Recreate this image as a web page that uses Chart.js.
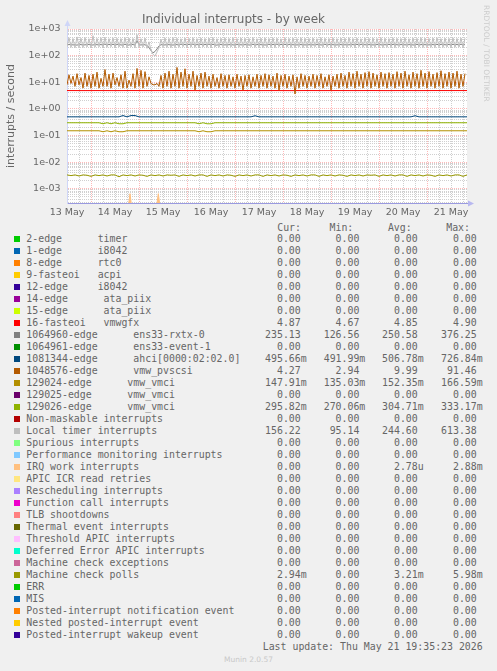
<!DOCTYPE html>
<html lang="en">
<head>
  <meta charset="UTF-8" />
  <title>Individual interrupts - by week</title>
  <script src="https://cdn.jsdelivr.net/npm/chart.js"></script>
  <style>
    body { margin: 0; background: #f0f0f0; }
    #wrap { position: relative; width: 497px; height: 671px; overflow: hidden; color: #666; font-family: 'DejaVu Sans Mono', monospace; }
    #chart { position: absolute; left: 0; top: 0; }
    .t { position: absolute; white-space: pre; font-size: 9.9px; line-height: 12px; }
    .sw { position: absolute; width: 6px; height: 6px; }
    #rrd { position: absolute; left: 482px; top: 5px; writing-mode: vertical-rl; font: 7.5px 'DejaVu Sans', sans-serif; color: #ccc; white-space: pre; }
    #munin { position: absolute; left: 0; width: 497px; top: 655px; text-align: center; font: 7.5px 'DejaVu Sans', sans-serif; color: #c8c8c8; }
  </style>
</head>
<body>
<div id="wrap">
  <canvas id="chart" width="497" height="222"></canvas>
  <div id="rrd">RRDTOOL / TOBI OETIKER</div>
  <div id="legend"></div>
  <div id="munin">Munin 2.0.57</div>
</div>

<script>
  // time axis in hours since 13 May 00:00; left edge is 13 May 12:00
  const startHour = 12;
  const endHour = 212;
  const dayLabels = ['13 May', '14 May', '15 May', '16 May', '17 May', '18 May', '19 May', '20 May', '21 May'];
  const yTickLabels = ['1e-03', '1e-02', '1e-01', '1e+00', '1e+01', '1e+02', '1e+03'];

  // hourly samples
  const localTimer = [
    215,470,205,440,198,505,210,450,202,480,212,430,196,560,208,445,214,470,200,490,
    206,435,216,465,199,450,211,438,204,475,201,455,213,442,195,612,207,432,210,458,
    188,330,160,112,96,138,195,415,212,465,203,442,199,478,211,452,206,431,216,463,
    201,447,209,472,204,436,198,461,212,443,205,458,199,476,210,433,206,452,214,466,
    203,444,211,474,199,437,207,463,212,451,201,441,215,478,204,432,209,457,200,468,
    206,442,211,463,199,453,216,431,204,472,210,446,201,462,206,437,212,471,199,452,
    209,443,205,461,214,433,200,473,206,452,211,441,199,467,205,436,210,462,201,451,
    204,472,211,442,200,457,215,432,206,468,210,447,201,461,205,441,211,473,200,452,
    206,437,210,466,199,451,214,442,205,471,211,432,200,462,206,447,210,474,201,456,
    211,441,205,462,200,472,214,436,204,457,211,446,199,466,206,442,210,461,200,451
  ];
  const ens33Rxtx = [
    262,256,271,249,266,244,276,254,261,251,269,258,263,247,274,253,266,256,259,271,
    251,263,254,268,246,261,272,249,258,266,255,248,271,259,252,366,258,250,263,254,
    238,205,152,128,142,178,232,256,263,249,271,255,261,247,266,258,251,270,256,262,
    250,266,258,272,246,261,254,268,251,262,259,270,252,266,255,247,268,258,262,251,
    265,254,271,250,260,258,267,252,263,255,270,248,261,266,252,258,268,255,262,250,
    258,267,252,262,256,271,249,263,257,266,252,260,268,254,262,250,266,257,263,251,
    260,254,268,251,263,257,270,249,262,266,252,259,267,255,261,250,269,256,262,253,
    264,252,270,256,259,265,251,262,268,254,261,257,266,250,263,258,271,252,260,256,
    257,265,251,263,269,254,260,258,267,252,262,256,270,249,261,264,253,258,267,255,
    262,251,268,257,260,265,252,263,270,254,259,262,250,266,258,261,253,268,256,258
  ];
  const pvscsi = [
    8,19,9,17,7,21,8,15,6,22,7,18,6,20,7,24,6,14,7,30,
    7,20,6,22,8,15,7,19,6,26,6,12,7,21,6,33,7,28,6,25,
    7,16,9,8,8,9,7,18,6,22,7,26,6,20,7,36,6,24,7,32,
    6,20,7,26,5,18,7,22,6,24,7,17,6,20,7,15,6,21,7,18,
    6,19,7,16,6,20,7,17,5,18,7,19,6,16,7,20,6,18,7,21,
    6,19,7,17,6,22,5,18,7,20,6,17,7,19,3.6,16,6,21,7,18,
    6,17,7,20,6,18,7,21,6,16,7,19,5,17,7,20,6,22,7,18,
    6,24,7,21,6,26,7,20,6,23,7,25,6,22,7,19,6,24,7,21,
    6,23,7,20,6,25,7,22,6,26,7,19,6,24,7,21,6,28,7,22,
    6,25,7,20,6,23,7,27,6,21,7,24,6,22,7,26,6,20,7,21
  ];

  // two-hourly samples
  const ahci = [
    0.5,0.5,0.5,0.5,0.5,0.5,0.5,0.5,0.5,0.5,
    0.5,0.5,0.5,0.5,0.56,0.5,0.56,0.56,0.5,0.5,
    0.5,0.5,0.5,0.5,0.5,0.5,0.5,0.5,0.5,0.5,
    0.5,0.5,0.5,0.5,0.5,0.5,0.5,0.5,0.5,0.5,
    0.5,0.5,0.5,0.5,0.5,0.5,0.5,0.55,0.5,0.5,
    0.5,0.5,0.5,0.5,0.5,0.5,0.5,0.5,0.5,0.5,
    0.5,0.5,0.5,0.5,0.5,0.5,0.5,0.5,0.5,0.5,
    0.5,0.5,0.5,0.5,0.5,0.5,0.5,0.5,0.5,0.5,
    0.5,0.5,0.5,0.5,0.5,0.5,0.5,0.55,0.5,0.5,
    0.5,0.5,0.5,0.5,0.5,0.5,0.5,0.5,0.5,0.5,0.5
  ];
  const vmci26 = [
    0.3,0.3,0.3,0.3,0.3,0.3,0.3,0.3,0.3,0.275,
    0.3,0.275,0.3,0.275,0.275,0.3,0.3,0.3,0.3,0.3,
    0.3,0.3,0.3,0.3,0.3,0.3,0.3,0.3,0.3,0.3,
    0.3,0.3,0.3,0.275,0.3,0.275,0.275,0.3,0.3,0.3,
    0.3,0.3,0.3,0.3,0.3,0.3,0.3,0.3,0.3,0.3,
    0.3,0.3,0.3,0.3,0.3,0.3,0.3,0.3,0.3,0.3,
    0.3,0.3,0.3,0.3,0.3,0.3,0.3,0.3,0.3,0.3,
    0.3,0.3,0.3,0.3,0.3,0.3,0.3,0.3,0.3,0.3,
    0.3,0.3,0.3,0.3,0.3,0.3,0.3,0.3,0.3,0.3,
    0.3,0.3,0.3,0.3,0.3,0.3,0.3,0.3,0.3,0.3,0.3
  ];
  const vmci24 = [
    0.15,0.15,0.15,0.15,0.15,0.15,0.15,0.15,0.15,0.138,
    0.15,0.138,0.15,0.138,0.138,0.15,0.15,0.15,0.15,0.15,
    0.15,0.15,0.15,0.15,0.15,0.15,0.15,0.15,0.15,0.15,
    0.15,0.15,0.15,0.138,0.15,0.138,0.138,0.15,0.15,0.15,
    0.15,0.15,0.15,0.15,0.15,0.15,0.15,0.15,0.15,0.15,
    0.15,0.15,0.15,0.15,0.15,0.15,0.15,0.15,0.15,0.15,
    0.15,0.15,0.15,0.15,0.15,0.15,0.15,0.15,0.15,0.15,
    0.15,0.15,0.15,0.15,0.15,0.15,0.15,0.15,0.15,0.15,
    0.15,0.15,0.15,0.15,0.15,0.15,0.15,0.15,0.15,0.15,
    0.15,0.15,0.15,0.15,0.15,0.15,0.15,0.15,0.15,0.15,0.15
  ];
  const mcPolls = [
    0.0033,0.0031,0.0033,0.0030,0.0033,0.0032,0.0029,0.0033,0.0031,0.0033,
    0.0030,0.0033,0.0033,0.0028,0.0033,0.0031,0.0033,0.0030,0.0033,0.0032,
    0.0029,0.0033,0.0031,0.0033,0.0030,0.0033,0.0032,0.0033,0.0029,0.0033,
    0.0031,0.0033,0.0030,0.0033,0.0033,0.0029,0.0033,0.0031,0.0033,0.0030,
    0.0033,0.0032,0.0029,0.0033,0.0031,0.0033,0.0030,0.0033,0.0033,0.0029,
    0.0033,0.0031,0.0033,0.0030,0.0033,0.0032,0.0029,0.0033,0.0031,0.0033,
    0.0030,0.0033,0.0033,0.0029,0.0033,0.0031,0.0033,0.0030,0.0033,0.0032,
    0.0029,0.0033,0.0031,0.0033,0.0030,0.0033,0.0032,0.0033,0.0029,0.0033,
    0.0031,0.0033,0.0030,0.0033,0.0033,0.0029,0.0033,0.0031,0.0033,0.0030,
    0.0033,0.0032,0.0029,0.0033,0.0031,0.0033,0.0030,0.0033,0.0033,0.0029,0.0033
  ];

  // eight-hourly samples
  const vmwgfx = [4.87,4.85,4.86,4.84,4.87,4.85,4.86,4.88,4.85,4.84,4.86,4.87,4.85,4.86,4.84,4.87,4.85,4.86,4.85,4.87,4.84,4.86,4.85,4.87,4.86,4.87];

  // IRQ work spikes (hour, value); null breaks the line
  const irqHours = [42.9, 43.5, 44.1, 50, 57.0, 57.65, 58.3];
  const irqValues = [0.00029, 0.00065, 0.00029, null, 0.00029, 0.00065, 0.00029];

  // legend table
  const names = [
    '2-edge      timer', '1-edge      i8042', '8-edge      rtc0', '9-fasteoi   acpi',
    '12-edge     i8042', '14-edge      ata_piix', '15-edge      ata_piix', '16-fasteoi   vmwgfx',
    '1064960-edge      ens33-rxtx-0', '1064961-edge      ens33-event-1',
    '1081344-edge      ahci[0000:02:02.0]', '1048576-edge      vmw_pvscsi',
    '129024-edge      vmw_vmci', '129025-edge      vmw_vmci', '129026-edge      vmw_vmci',
    'Non-maskable interrupts', 'Local timer interrupts', 'Spurious interrupts',
    'Performance monitoring interrupts', 'IRQ work interrupts', 'APIC ICR read retries',
    'Rescheduling interrupts', 'Function call interrupts', 'TLB shootdowns',
    'Thermal event interrupts', 'Threshold APIC interrupts', 'Deferred Error APIC interrupts',
    'Machine check exceptions', 'Machine check polls', 'ERR', 'MIS',
    'Posted-interrupt notification event', 'Nested posted-interrupt event', 'Posted-interrupt wakeup event'
  ];
  const colors = [
    '#00CC00', '#0066B3', '#FF8000', '#FFCC00', '#330099', '#990099', '#CCFF00', '#FF0000',
    '#808080', '#008F00', '#00487D', '#B35A00', '#B38F00', '#6B006B', '#8FB300', '#B30000',
    '#BEBEBE', '#80FF80', '#80C9FF', '#FFC080', '#FFE680', '#AA80FF', '#EE00CC', '#FF8080',
    '#666600', '#FFBFFF', '#00FFCC', '#CC6699', '#999900', '#00CC00', '#0066B3', '#FF8000',
    '#FFCC00', '#330099'
  ];
  const curVals = ['0.00','0.00','0.00','0.00','0.00','0.00','0.00','4.87','235.13','0.00','495.66m','4.27','147.91m','0.00','295.82m','0.00','156.22','0.00','0.00','0.00','0.00','0.00','0.00','0.00','0.00','0.00','0.00','0.00','2.94m','0.00','0.00','0.00','0.00','0.00'];
  const minVals = ['0.00','0.00','0.00','0.00','0.00','0.00','0.00','4.67','126.56','0.00','491.99m','2.94','135.03m','0.00','270.06m','0.00','95.14','0.00','0.00','0.00','0.00','0.00','0.00','0.00','0.00','0.00','0.00','0.00','0.00','0.00','0.00','0.00','0.00','0.00'];
  const avgVals = ['0.00','0.00','0.00','0.00','0.00','0.00','0.00','4.85','250.58','0.00','506.78m','9.99','152.35m','0.00','304.71m','0.00','244.60','0.00','0.00','2.78u','0.00','0.00','0.00','0.00','0.00','0.00','0.00','0.00','3.21m','0.00','0.00','0.00','0.00','0.00'];
  const maxVals = ['0.00','0.00','0.00','0.00','0.00','0.00','0.00','4.90','376.25','0.00','726.84m','91.46','166.59m','0.00','333.17m','0.00','613.38','0.00','0.00','2.88m','0.00','0.00','0.00','0.00','0.00','0.00','0.00','0.00','5.98m','0.00','0.00','0.00','0.00','0.00'];
  const lastUpdate = 'Last update: Thu May 21 19:35:23 2026';

  const pts = (vals, step) => vals.map((v, i) => ({ x: startHour + i * step, y: v }));
  const line = (idx, data, extra) => Object.assign({
    label: names[idx], data, borderColor: colors[idx], backgroundColor: colors[idx],
    borderWidth: 1, pointRadius: 0, tension: 0, fill: false, order: -idx
  }, extra || {});

  const MAJOR = 'rgba(255,128,128,0.55)';
  const MINOR = 'rgba(170,170,170,0.55)';
  const FONT = 'DejaVu Sans';

  const canvasBg = {
    id: 'canvasBg',
    beforeDraw(chart) {
      const { ctx, chartArea: a } = chart;
      ctx.save();
      ctx.fillStyle = '#ffffff';
      ctx.fillRect(a.left, a.top, a.right - a.left, a.bottom - a.top);
      ctx.restore();
    }
  };
  const arrows = {
    id: 'arrows',
    afterDraw(chart) {
      const { ctx, chartArea: a } = chart;
      const x = Math.round(a.left) + 0.5, y = Math.round(a.bottom) + 0.5;
      ctx.save();
      ctx.strokeStyle = '#CFD6F8';
      ctx.fillStyle = '#CFD6F8';
      ctx.lineWidth = 1;
      ctx.beginPath(); ctx.moveTo(x, a.top); ctx.lineTo(x, a.top - 4); ctx.stroke();
      ctx.beginPath(); ctx.moveTo(x - 3, a.top - 3); ctx.lineTo(x + 3, a.top - 3); ctx.lineTo(x, a.top - 9); ctx.closePath(); ctx.fill();
      ctx.strokeStyle = '#9a9ae0'; ctx.fillStyle = '#b8b8f0';
      ctx.beginPath(); ctx.moveTo(a.right, y); ctx.lineTo(a.right + 2, y); ctx.stroke();
      ctx.beginPath(); ctx.moveTo(a.right + 1, y - 3); ctx.lineTo(a.right + 1, y + 3); ctx.lineTo(a.right + 7, y); ctx.closePath(); ctx.fill();
      ctx.restore();
    }
  };

  new Chart(document.getElementById('chart'), {
    type: 'line',
    data: {
      datasets: [
        line(7, pts(vmwgfx, 8)),
        line(8, pts(ens33Rxtx, 1)),
        line(10, pts(ahci, 2)),
        line(11, pts(pvscsi, 1)),
        line(12, pts(vmci24, 2)),
        line(14, pts(vmci26, 2)),
        line(16, pts(localTimer, 1)),
        line(19, irqHours.map((h, i) => ({ x: h, y: irqValues[i] })), { fill: 'start', spanGaps: false }),
        line(28, pts(mcPolls, 2))
      ]
    },
    options: {
      responsive: false,
      animation: false,
      events: [],
      layout: { padding: { left: 0, right: 30, top: 0, bottom: 0 } },
      plugins: {
        legend: { display: false },
        tooltip: { enabled: false },
        title: {
          display: true, text: 'Individual interrupts - by week', color: '#666',
          font: { family: FONT, size: 12, weight: 'normal' }, padding: { top: 12.3, bottom: 2.3 }
        }
      },
      scales: {
        x: {
          type: 'linear', min: startHour, max: endHour,
          afterFit: s => { s.height = 19; },
          afterBuildTicks: s => {
            const t = [];
            for (let h = startHour; h < endHour; h += 6) t.push({ value: h, major: h % 24 === 0 });
            s.ticks = t;
          },
          ticks: {
            autoSkip: false, maxRotation: 0, padding: 4, color: '#666',
            font: { family: FONT, size: 9.5 },
            callback: v => (v % 24 === 12 ? dayLabels[(v - 12) / 24] : '')
          },
          grid: { drawTicks: false, lineWidth: 1, color: c => (c.tick && c.tick.major ? MAJOR : MINOR) },
          border: { display: true, color: '#9a9ae0', dash: [1, 1] }
        },
        y: {
          type: 'logarithmic', min: 0.00029, max: 1000,
          afterFit: s => { s.width = 67; },
          afterBuildTicks: s => {
            const t = [];
            for (let e = -4; e <= 3; e++) {
              for (let m = 1; m <= 9; m++) {
                const v = m * Math.pow(10, e);
                if (v >= s.min * 0.9999 && v <= s.max * 1.0001) t.push({ value: v, major: m === 1 });
              }
            }
            s.ticks = t;
          },
          ticks: {
            autoSkip: false, padding: 6.5, color: '#666',
            font: { family: FONT, size: 9.5 },
            callback: (v, i, ticks) => (ticks[i].major ? yTickLabels[Math.round(Math.log10(v)) + 3] : '')
          },
          grid: { drawTicks: false, lineWidth: 1, color: c => (c.tick && c.tick.major ? MAJOR : MINOR) },
          border: { display: true, color: '#CFD6F8', dash: [1, 1] },
          title: {
            display: true, text: 'interrupts / second', color: '#666',
            font: { family: FONT, size: 11, weight: 'normal' }, padding: { top: 4.4, bottom: 0 }
          }
        }
      }
    },
    plugins: [canvasBg, arrows]
  });

  // legend rows
  const legend = document.getElementById('legend');
  const add = (cls, style, text) => {
    const d = document.createElement('div');
    d.className = cls;
    d.style.cssText = style;
    if (text !== undefined) d.textContent = text;
    legend.appendChild(d);
  };
  const withUnit = v => (/[a-z]$/i.test(v) ? v : v + ' ');
  const colEnds = [306.7, 365.3, 423.7, 482.7];
  const heads = [['Cur:', 301], ['Min:', 353.3], ['Avg:', 411.7], ['Max:', 470]];
  heads.forEach(([h, r]) => add('t', `top:${228.3 - 6}px;right:${497 - r}px;`, h));
  names.forEach((n, k) => {
    const yc = 239.3 + 12 * k;
    add('sw', `left:14px;top:${yc - 3}px;background:${colors[k]};`);
    add('t', `left:26.3px;top:${yc - 6}px;`, n);
    [curVals, minVals, avgVals, maxVals].forEach((col, c) => {
      add('t', `top:${yc - 6}px;right:${497 - colEnds[c]}px;`, withUnit(col[k]));
    });
  });
  add('t', `top:${647.3 - 6}px;right:${497 - 482.7}px;`, lastUpdate);
</script>
</body>
</html>
